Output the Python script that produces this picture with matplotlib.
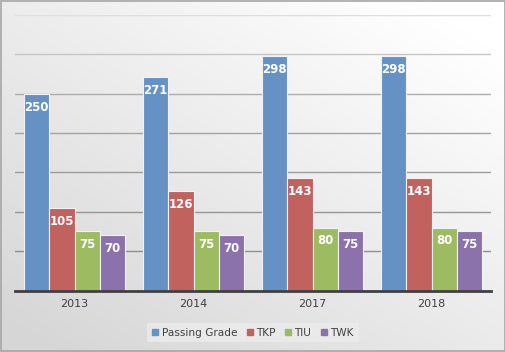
import numpy as np
import matplotlib.pyplot as plt
from matplotlib.patches import Rectangle

years = ["2013", "2014", "2017", "2018"]
series_names = ["Passing Grade", "TKP", "TIU", "TWK"]
passing_grade = [250, 271, 298, 298]
tkp = [105, 126, 143, 143]
tiu = [75, 75, 80, 80]
twk = [70, 70, 75, 75]
colors = ["#6591c5", "#c2625f", "#9dbc62", "#8b72aa"]

W, H = 506, 352
fig = plt.figure(figsize=(W / 100, H / 100), dpi=100)

# gradient background
bg = fig.add_axes([0, 0, 1, 1], zorder=0)
yy, xx = np.mgrid[0:1:200j, 0:1:300j]
t = np.clip(0.55 * xx + 0.6 * yy - 0.05, 0, 1)
base = 0.84 + 0.16 * t
img = np.dstack([base, base, base])
bg.imshow(img, origin="lower", extent=[0, 1, 0, 1], aspect="auto")
bg.add_patch(Rectangle((0.001, 0.002), 0.997, 0.995, fill=False, ec="#a6a6a6", lw=1.2,
                       transform=bg.transAxes))
bg.set_xlim(0, 1)
bg.set_ylim(0, 1)
bg.axis("off")

left, right = 15, 491
top, base_y = 15, 290.5
ax = fig.add_axes([left / W, (H - base_y) / H, (right - left) / W, (base_y - top) / H], zorder=1)
ax.patch.set_alpha(0)

data = [passing_grade, tkp, tiu, twk]
x = np.arange(len(years))
bw = 0.212
for i, (vals, c, name) in enumerate(zip(data, colors, series_names)):
    pos = x + (i - 1.5) * bw
    ax.bar(pos, vals, width=bw, color=c, edgecolor="#f2f2f2", linewidth=0.8,
           label=name, zorder=3)
    for p, v in zip(pos, vals):
        ax.annotate(str(v), (p, v), xytext=(0, -5), textcoords="offset points",
                    ha="center", va="top", color="white", fontsize=8.5,
                    fontweight="bold", zorder=4)

ax.set_ylim(0, 350)
ax.set_xlim(-0.5, len(years) - 0.5)
ax.set_yticks(np.arange(50, 351, 50))
ax.yaxis.grid(True, lw=1, zorder=1)
grid_cols = ["#8f8f8f", "#969696", "#9c9c9c", "#a3a3a3", "#adadad", "#c6c6c6", "#dedede"]
for gl, gc in zip(ax.yaxis.get_gridlines(), grid_cols):
    gl.set_color(gc)
ax.set_axisbelow(True)
ax.tick_params(axis="y", left=False, labelleft=False)
ax.set_xticks(x)
ax.set_xticklabels(years, fontsize=8, color="#404040")
ax.tick_params(axis="x", length=0, pad=6)
for s in ["top", "right", "left"]:
    ax.spines[s].set_visible(False)
ax.spines["bottom"].set_color("#404040")
ax.spines["bottom"].set_linewidth(2)
ax.spines["bottom"].set_zorder(5)

handles = [plt.Line2D([], [], marker="s", ls="", color=c, markersize=5) for c in colors]
leg = fig.legend(handles, series_names, loc="center", bbox_to_anchor=(253 / W, (H - 332.5) / H),
                 ncol=4, frameon=True, fontsize=7.6, handlelength=0.6, handletextpad=0.3,
                 columnspacing=0.9, borderpad=0.45, fancybox=False)
leg.get_frame().set_facecolor("#ececec")
leg.get_frame().set_edgecolor("none")
leg.get_frame().set_alpha(0.8)
for txt in leg.get_texts():
    txt.set_color("#404040")

fig.savefig("out.png", dpi=100)
